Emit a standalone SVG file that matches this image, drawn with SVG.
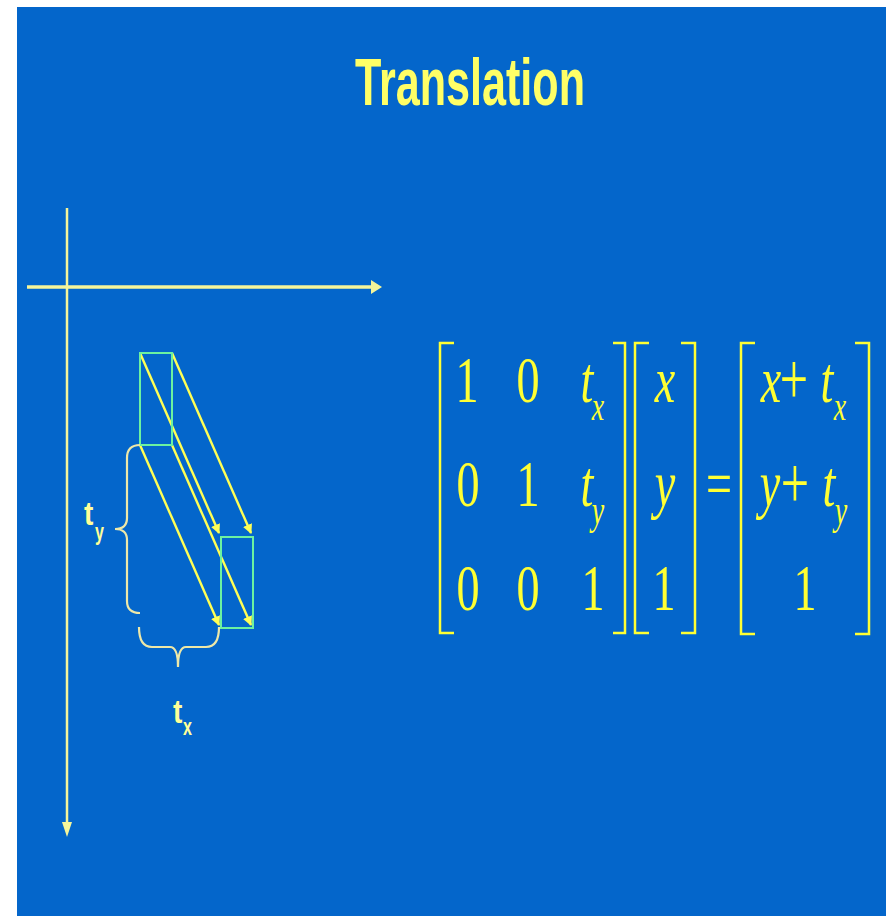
<svg xmlns="http://www.w3.org/2000/svg" width="886" height="916" viewBox="0 0 886 916">
<defs>
<style>
.bg{fill:#0466CB}
.axis{stroke:#F5F59A;fill:none}
.arr{stroke:#FFFF55;stroke-width:2.4;fill:none}
.box{stroke:#6CF2A0;stroke-width:2;fill:none}
.brace{stroke:#EEE8A8;stroke-width:2.2;fill:none}
.lbl{font-family:"Liberation Sans",Arial,sans-serif;font-weight:bold;fill:#FFFF99}
.title{font-family:"Liberation Sans",Arial,sans-serif;font-weight:bold;font-size:67px;fill:#FFFF66}
.m{font-family:"Liberation Serif","Times New Roman",serif;font-size:66px;fill:#FFFF33}
.s{font-size:40px}
.i{font-style:italic}
.p{font-size:74px}
.br{stroke:#FFFF33;stroke-width:2.5;fill:none}
</style>
<marker id="ah" viewBox="0 0 10 10" refX="9" refY="5" markerWidth="4.2" markerHeight="4" orient="auto" markerUnits="strokeWidth">
<path d="M0,0 L10,5 L0,10 z" fill="#FFFF55"/>
</marker>
</defs>
<rect x="0" y="0" width="886" height="916" fill="#FFFFFF"/>
<rect class="bg" x="17" y="7" width="869" height="909"/>
<text class="title" x="355" y="105" textLength="230" lengthAdjust="spacingAndGlyphs">Translation</text>
<g id="axes">
<line class="axis" x1="27" y1="287" x2="372" y2="287" stroke-width="3.5"/>
<path d="M371,280 L382,287 L371,294 z" fill="#F5F59A"/>
<line class="axis" x1="67" y1="208" x2="67" y2="824" stroke-width="2.5"/>
<path d="M62,822 L67,837 L72,822 z" fill="#F5F59A"/>
</g>
<g id="connectors">
<line class="arr" x1="140" y1="353" x2="219" y2="533" marker-end="url(#ah)"/>
<line class="arr" x1="172" y1="353" x2="251" y2="533" marker-end="url(#ah)"/>
<line class="arr" x1="140" y1="445" x2="219" y2="625" marker-end="url(#ah)"/>
<line class="arr" x1="172" y1="445" x2="251" y2="625" marker-end="url(#ah)"/>
</g>
<g id="box-original"><rect class="box" x="140" y="353" width="32" height="92"/></g>
<g id="box-translated"><rect class="box" x="221" y="537" width="32" height="91"/></g>
<g id="brace-ty">
<path class="brace" d="M140,445 Q127,445 127,458 L127,518 Q127,529 115,529 Q127,529 127,540 L127,601 Q127,613 140,613"/>
<text class="lbl" transform="translate(84,525) scale(0.85,1)" font-size="33">t</text>
<text class="lbl" transform="translate(95,540) scale(0.7,1)" font-size="23">y</text>
</g>
<g id="brace-tx">
<path class="brace" d="M139,627 Q139,647 152,647 L170,647 Q178,647 178,667 Q178,647 186,647 L206,647 Q219,647 219,627"/>
<text class="lbl" transform="translate(173,723) scale(0.85,1)" font-size="33">t</text>
<text class="lbl" transform="translate(183,735) scale(0.7,1)" font-size="23">x</text>
</g>
<g id="matrix" text-anchor="middle">
<path class="br" d="M454,343 L440,343 L440,633 L454,633"/>
<path class="br" d="M613,343 L625,343 L625,633 L613,633"/>
<path class="br" d="M649,343 L635,343 L635,633 L649,633"/>
<path class="br" d="M681,343 L695,343 L695,633 L681,633"/>
<path class="br" d="M755,343 L741,343 L741,634 L755,634"/>
<path class="br" d="M855,343 L869,343 L869,634 L855,634"/>
<text class="m" transform="translate(467,402) scale(0.7,1)">1</text>
<text class="m" transform="translate(528,402) scale(0.7,1)">0</text>
<text class="m i" transform="translate(587,402) scale(0.7,1)">t</text>
<text class="m i s" transform="translate(598,420) scale(0.7,1)">x</text>
<text class="m" transform="translate(468,506) scale(0.7,1)">0</text>
<text class="m" transform="translate(528,506) scale(0.7,1)">1</text>
<text class="m i" transform="translate(587,506) scale(0.7,1)">t</text>
<text class="m i s" transform="translate(598,524) scale(0.7,1)">y</text>
<text class="m" transform="translate(468,610) scale(0.7,1)">0</text>
<text class="m" transform="translate(528,610) scale(0.7,1)">0</text>
<text class="m" transform="translate(593,610) scale(0.7,1)">1</text>
<text class="m i" transform="translate(665,402) scale(0.7,1)">x</text>
<text class="m i" transform="translate(665,506) scale(0.7,1)">y</text>
<text class="m" transform="translate(664,610) scale(0.7,1)">1</text>
<text class="m" transform="translate(719,506) scale(0.7,1)">=</text>
<text class="m i" transform="translate(771,402) scale(0.7,1)">x</text>
<text class="m p" transform="translate(794,404) scale(0.68,1)">+</text>
<text class="m i" transform="translate(827,402) scale(0.7,1)">t</text>
<text class="m i s" transform="translate(840,420) scale(0.7,1)">x</text>
<text class="m i" transform="translate(770,506) scale(0.7,1)">y</text>
<text class="m p" transform="translate(795,508) scale(0.68,1)">+</text>
<text class="m i" transform="translate(829,506) scale(0.7,1)">t</text>
<text class="m i s" transform="translate(841,524) scale(0.7,1)">y</text>
<text class="m" transform="translate(805,610) scale(0.7,1)">1</text>
</g>
</svg>
